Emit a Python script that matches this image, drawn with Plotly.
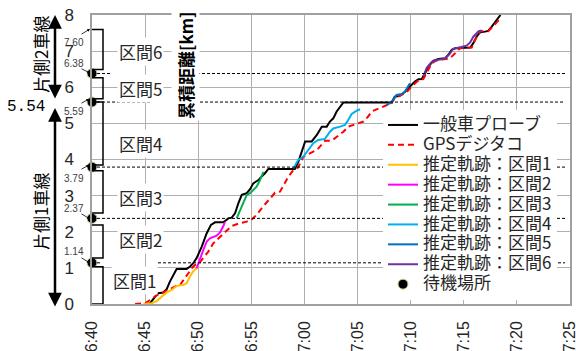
import pandas as pd
import plotly.graph_objects as go

DAY = "2000-01-01 "

# ---- data -------------------------------------------------------------
probe_time = ["06:45:00", "06:45:28", "06:45:56", "06:46:15", "06:46:42", "06:47:02", "06:47:20",
              "06:47:40", "06:47:58", "06:48:54", "06:49:13", "06:49:32", "06:49:51", "06:50:20",
              "06:50:48", "06:51:12", "06:51:35", "06:52:22", "06:52:50", "06:53:09", "06:53:28",
              "06:53:47", "06:54:06", "06:54:34", "06:54:53", "06:55:11", "06:55:40", "06:55:58",
              "06:56:17", "06:56:36", "06:59:06", "06:59:26", "06:59:44", "07:00:04", "07:00:41",
              "07:01:10", "07:01:38", "07:02:06", "07:02:24", "07:02:43", "07:03:02", "07:03:21",
              "07:03:40", "07:08:12", "07:08:30", "07:08:58", "07:09:30", "07:09:56", "07:10:24",
              "07:10:44", "07:11:02", "07:11:22", "07:11:40", "07:12:08", "07:12:36", "07:13:14",
              "07:13:33", "07:13:52", "07:14:11", "07:15:36", "07:15:54", "07:16:12", "07:16:32",
              "07:17:00", "07:17:18", "07:17:38", "07:17:57", "07:18:16", "07:18:27"]
probe_km = [0.00, 0.02, 0.20, 0.30, 0.32, 0.41, 0.62, 0.82, 0.97, 0.97, 1.03, 1.13, 1.27, 1.59,
            1.96, 2.19, 2.26, 2.26, 2.37, 2.39, 2.51, 2.79, 3.02, 3.07, 3.18, 3.34, 3.43, 3.53,
            3.62, 3.74, 3.74, 3.94, 4.22, 4.50, 4.50, 4.68, 4.91, 4.91, 5.05, 5.14, 5.33, 5.47,
            5.58, 5.58, 5.74, 5.76, 5.88, 6.02, 6.16, 6.22, 6.23, 6.39, 6.57, 6.73, 6.78, 6.80,
            6.90, 7.04, 7.08, 7.10, 7.22, 7.40, 7.52, 7.54, 7.56, 7.68, 7.80, 7.92, 8.00]

gps_time = ["06:44:03", "06:45:00", "06:45:37", "06:46:15", "06:46:52", "06:47:30", "06:47:58",
            "06:48:17", "06:48:46", "06:49:04", "06:49:23", "06:49:42", "06:50:00", "06:50:29",
            "06:50:57", "06:51:25", "06:51:54", "06:52:31", "06:53:09", "06:53:56", "06:54:34",
            "06:55:00", "06:55:30", "06:55:58", "06:56:36", "06:57:14", "06:57:42", "06:58:10",
            "06:58:30", "06:58:58", "06:59:24", "06:59:44", "06:59:54", "07:00:50", "07:01:19",
            "07:01:56", "07:02:34", "07:03:40", "07:04:08", "07:05:33", "07:06:00", "07:06:20",
            "07:07:44", "07:08:12", "07:08:30", "07:09:10", "07:09:36", "07:09:56", "07:10:24",
            "07:10:36", "07:11:12", "07:11:40", "07:11:59", "07:12:24", "07:13:14", "07:13:42",
            "07:14:11", "07:14:39", "07:15:45", "07:16:04", "07:16:32", "07:17:18", "07:17:48",
            "07:18:24"]
gps_km = [0.00, 0.02, 0.14, 0.27, 0.34, 0.45, 0.51, 0.53, 0.71, 0.85, 0.99, 1.08, 1.10, 1.27,
          1.45, 1.68, 1.82, 2.00, 2.16, 2.24, 2.28, 2.33, 2.47, 2.65, 2.88, 3.08, 3.11, 3.34,
          3.53, 3.71, 3.78, 3.97, 4.08, 4.22, 4.31, 4.52, 4.52, 4.77, 4.91, 5.05, 5.19, 5.33,
          5.51, 5.56, 5.70, 5.79, 5.85, 5.97, 6.11, 6.16, 6.23, 6.48, 6.66, 6.74, 6.78, 6.80,
          6.94, 7.08, 7.10, 7.31, 7.55, 7.55, 7.70, 7.89]

sec1_time = ["06:44:50", "06:45:37", "06:46:05", "06:46:34", "06:47:02", "06:47:30", "06:47:58",
             "06:48:36", "06:48:54", "06:49:13", "06:49:32", "06:49:51", "06:50:00"]
sec1_km = [0.00, 0.02, 0.08, 0.20, 0.32, 0.39, 0.50, 0.53, 0.57, 0.76, 0.91, 0.99, 1.03]

sec2_time = ["06:49:51", "06:50:10", "06:50:29", "06:50:48", "06:51:06", "06:51:44", "06:52:03",
             "06:52:22", "06:52:31"]
sec2_km = [0.99, 1.27, 1.50, 1.73, 1.82, 1.89, 1.98, 2.16, 2.27]

sec3_time = ["06:53:37", "06:53:56", "06:54:15", "06:54:34", "06:54:53", "06:55:11", "06:55:30",
             "06:55:49", "06:56:08"]
sec3_km = [2.37, 2.60, 2.83, 3.02, 3.07, 3.16, 3.25, 3.43, 3.66]

sec4_time = ["06:58:58", "06:59:25", "06:59:54", "07:00:22", "07:00:50", "07:01:18", "07:01:56",
             "07:02:24", "07:02:43", "07:03:21", "07:03:49", "07:04:08", "07:04:27", "07:04:55",
             "07:05:14"]
sec4_km = [3.76, 3.99, 4.08, 4.27, 4.45, 4.54, 4.57, 4.77, 4.86, 4.91, 4.96, 5.10, 5.26, 5.35, 5.39]

sec5_time = ["07:07:44", "07:08:12", "07:08:40", "07:09:10", "07:09:28", "07:09:48", "07:09:56"]
sec5_km = [5.51, 5.58, 5.79, 5.81, 5.88, 6.02, 6.11]

sec6_time = ["07:11:12", "07:11:30", "07:11:59", "07:12:36", "07:13:14", "07:13:42", "07:14:00",
             "07:14:30", "07:15:16", "07:15:36", "07:15:54", "07:16:24", "07:16:42"]
sec6_km = [6.30, 6.53, 6.70, 6.76, 6.79, 6.93, 7.06, 7.10, 7.15, 7.24, 7.40, 7.55, 7.57]

wait_km = [1.14, 2.37, 3.79, 5.59, 6.38]          # 待機場所
section_names = ["区間1", "区間2", "区間3", "区間4", "区間5", "区間6"]
section_lo = [0.00, 1.27, 2.52, 3.85, 5.68, 6.49]
section_hi = [1.03, 2.19, 3.69, 5.59, 6.26, 7.60]
section_top_km = 7.60
lane_split_km = 5.54
x_ticks = ["06:40", "06:45", "06:50", "06:55", "07:00", "07:05", "07:10", "07:15", "07:20", "07:25"]

# ---- helpers ----------------------------------------------------------
def T(lst):
    return pd.to_datetime([DAY + s for s in lst])

PL, PR, PT, PB = 92, 570, 15, 304      # plot area in page pixels
W, H = 576, 351

def px(x):
    return (x - PL) / (PR - PL)

def py(y):
    return (PB - y) / (PB - PT)

JP = "Noto Sans CJK JP"
TXT = "#262626"

def legend_label(s):
    # legend rows are spaced by the legend font; the label itself is drawn larger
    return f'<span style="font-size:17px">{s}</span>'

fig = go.Figure()

series = [
    ("一般車プローブ", probe_time, probe_km, "#000000", "solid"),
    ("GPSデジタコ", gps_time, gps_km, "#FF0000", "6px,4px"),
    ("推定軌跡：区間1", sec1_time, sec1_km, "#FFC000", "solid"),
    ("推定軌跡：区間2", sec2_time, sec2_km, "#FF00FF", "solid"),
    ("推定軌跡：区間3", sec3_time, sec3_km, "#00B050", "solid"),
    ("推定軌跡：区間4", sec4_time, sec4_km, "#00B0F0", "solid"),
    ("推定軌跡：区間5", sec5_time, sec5_km, "#0070C0", "solid"),
    ("推定軌跡：区間6", sec6_time, sec6_km, "#7030A0", "solid"),
]
for name, tt, kk, col, dash in series:
    fig.add_trace(go.Scatter(x=T(tt), y=kk, name=legend_label(name), mode="lines",
                             line=dict(color=col, width=2, dash=dash)))

fig.add_trace(go.Scatter(
    x=T(["06:40:00"] * len(wait_km)), y=wait_km, name=legend_label("待機場所"), mode="markers",
    marker=dict(color="black", size=10, line=dict(color="#C9D9A0", width=1)),
    cliponaxis=False))

shapes = []
# dashed guide lines at the waiting places
gaps = {6.38: [(92, 110), (197, 565)], 5.59: [(92, 152), (200, 565)],
        3.79: [(92, 565)], 2.37: [(92, 565)], 1.14: [(92, 100), (158, 565)]}
for km in wait_km:
    for a, b in gaps[km]:
        shapes.append(dict(type="line", xref="paper", yref="y", x0=px(a), x1=px(b),
                           y0=km, y1=km, line=dict(color="black", width=1, dash="3px,2px")))
# section brackets
bx = px(103)
for lo, hi in zip(section_lo, section_hi):
    shapes.append(dict(type="path", xref="paper", yref="y",
                       path=f"M 0,{hi} L {bx},{hi} L {bx},{lo} L 0,{lo}",
                       line=dict(color="black", width=1.5)))

ann = []

def text_at(x, y, text, **kw):
    ann.append(dict(x=px(x), y=py(y), xref="paper", yref="paper", text=text, showarrow=False,
                    xanchor="center", yanchor="middle", **kw))

def arrow(tail, head, **kw):
    (sx, sy), (hx, hy) = tail, head
    ann.append(dict(x=px(hx), y=py(hy), xref="paper", yref="paper", text="", showarrow=True,
                    ax=sx - hx, ay=sy - hy, arrowcolor="black", standoff=0, **kw))

# section labels
label_pos = [(134, 280), (140, 240), (140, 198), (140, 143), (140, 88), (140, 52)]
for name, (lx, ly) in zip(section_names, label_pos):
    text_at(lx, ly, name, font=dict(family=JP, size=17, color=TXT), bgcolor="white")

# axis title
text_at(185, 65, "<b>累積距離[km]</b>", textangle=-90,
        font=dict(family=JP, size=17, color="black"), bgcolor="white")

# value labels beside the waiting places
small = [(f"{section_top_km:.2f}", (74, 42), (80, 35), (90, 29))]
spots = [((74, 251), (80, 257), (90, 263)), ((74, 208), (80, 213), (90, 219)),
         ((74, 178), (80, 170), (89, 165)), ((74, 111), (80, 104), (89, 99)),
         ((74, 63), (80, 68), (90, 73))]
for km, s in zip(wait_km, spots):
    small.append((f"{km:.2f}", *s))
for text, tpos, tail, head in small:
    text_at(*tpos, text, font=dict(family="Liberation Sans", size=10, color="#404040"))
    arrow(tail, head, arrowhead=2, arrowsize=0.7, arrowwidth=0.8)

# lane arrows and labels
for (x0, y0, y1) in [(55, 15, 100), (55, 108, 308)]:
    arrow((x0, y1), (x0, y0), arrowhead=2, startarrowhead=2, arrowside="end+start",
          arrowsize=1.1, startarrowsize=1.1, arrowwidth=2.5, startstandoff=0)
text_at(40, 55, "片側2車線", textangle=-90, font=dict(family=JP, size=17, color="black"))
text_at(40, 212, "片側1車線", textangle=-90, font=dict(family=JP, size=17, color="black"))
text_at(26, 107, f"{lane_split_km:.2f}", font=dict(family="Liberation Mono", size=16, color="black"))

grid = "#B0B0B0"
fig.update_layout(
    width=W, height=H, margin=dict(l=PL, r=W - PR, t=PT, b=H - PB, autoexpand=False),
    paper_bgcolor="white", plot_bgcolor="white",
    showlegend=True,
    legend=dict(x=px(383), y=py(110), xanchor="left", yanchor="top", bgcolor="white",
                font=dict(family=JP, size=13, color=TXT), itemwidth=30, tracegroupgap=0),
    xaxis=dict(range=[pd.Timestamp(DAY + "06:40:00"), pd.Timestamp(DAY + "07:25:00")],
               tickvals=T(x_ticks), tickformat="%-H:%M", tickangle=-90,
               tickfont=dict(family="Liberation Sans", size=16, color=TXT),
               ticklabeloverflow="allow",
               showgrid=True, gridcolor=grid, gridwidth=1, showline=True, mirror=True,
               linecolor="#A0A0A0", linewidth=1.5, ticks="", zeroline=False,
               ticklabelstandoff=9, automargin=False),
    yaxis=dict(range=[0, 8], tickvals=list(range(9)),
               tickfont=dict(family="Liberation Sans", size=17, color=TXT),
               ticklabeloverflow="allow",
               showgrid=True, gridcolor=grid, gridwidth=1, showline=True, mirror=True,
               linecolor="#A0A0A0", linewidth=1.5, ticks="", zeroline=False,
               ticklabelstandoff=13, automargin=False),
    shapes=shapes, annotations=ann,
)

fig.write_html("out.html")
